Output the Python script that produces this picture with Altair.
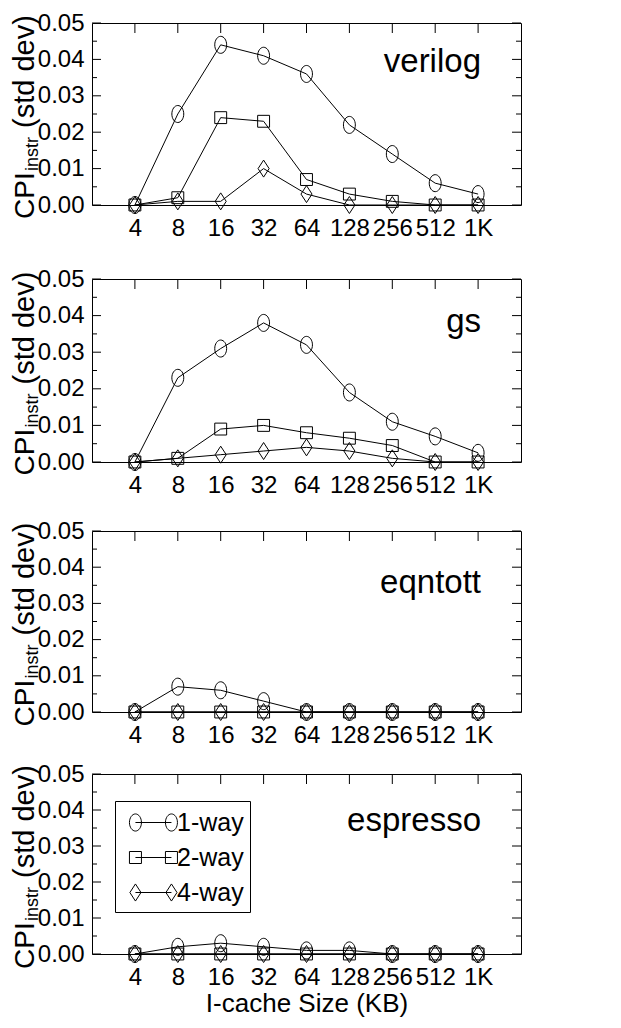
import altair as alt
import pandas as pd

sizes = ["4", "8", "16", "32", "64", "128", "256", "512", "1K"]
series = ["1-way", "2-way", "4-way"]
benchmarks = ["verilog", "gs", "eqntott", "espresso"]

verilog_1way = [0.0, 0.025, 0.044, 0.041, 0.036, 0.022, 0.014, 0.006, 0.003]
verilog_2way = [0.0, 0.002, 0.024, 0.023, 0.007, 0.003, 0.001, 0.0, 0.0]
verilog_4way = [0.0, 0.001, 0.001, 0.010, 0.003, 0.0, 0.0, 0.0, 0.0]

gs_1way = [0.0, 0.023, 0.031, 0.038, 0.032, 0.019, 0.011, 0.007, 0.0025]
gs_2way = [0.0, 0.001, 0.009, 0.010, 0.008, 0.0065, 0.0045, 0.0, 0.0]
gs_4way = [0.0, 0.001, 0.002, 0.003, 0.004, 0.003, 0.001, 0.0, 0.0]

eqntott_1way = [0.0, 0.007, 0.006, 0.003, 0.0, 0.0, 0.0, 0.0, 0.0]
eqntott_2way = [0.0, 0.0, 0.0, 0.0, 0.0, 0.0, 0.0, 0.0, 0.0]
eqntott_4way = [0.0, 0.0, 0.0, 0.0, 0.0, 0.0, 0.0, 0.0, 0.0]

espresso_1way = [0.0, 0.002, 0.003, 0.002, 0.001, 0.001, 0.0, 0.0, 0.0]
espresso_2way = [0.0, 0.0, 0.0, 0.0, 0.0, 0.0, 0.0, 0.0, 0.0]
espresso_4way = [0.0, 0.0, 0.0, 0.0, 0.0, 0.0, 0.0, 0.0, 0.0]

y_major = [0.0, 0.01, 0.02, 0.03, 0.04, 0.05]
y_minor = [0.005, 0.015, 0.025, 0.035, 0.045]

panel_values = {
    "verilog": [verilog_1way, verilog_2way, verilog_4way],
    "gs": [gs_1way, gs_2way, gs_4way],
    "eqntott": [eqntott_1way, eqntott_2way, eqntott_4way],
    "espresso": [espresso_1way, espresso_2way, espresso_4way],
}

FONT = "Liberation Sans"
W = 429
heights = [182, 183, 181, 180]
name_baseline = [49, 53, 62, 57]

# marker paths (unit box -> sqrt(size) px)
ELLIPSE = "M0,-1 A0.7,1 0 1,1 0,1 A0.7,1 0 1,1 0,-1 Z"
SQUARE = "M-0.7,-0.7 L0.7,-0.7 L0.7,0.7 L-0.7,0.7 Z"
DIAMOND = "M0,-1 L0.65,0 L0,1 L-0.65,0 Z"


def ell(cx, rx, ry):
    return (f"M{cx},{-ry} A{rx},{ry} 0 1,1 {cx},{ry} "
            f"A{rx},{ry} 0 1,1 {cx},{-ry} Z")


def sq(cx, h):
    return (f"M{cx-h},{-h} L{cx+h},{-h} L{cx+h},{h} L{cx-h},{h} Z")


def dia(cx, hw, hh):
    return f"M{cx},{-hh} L{cx+hw},0 L{cx},{hh} L{cx-hw},0 Z"


SH = 1.13  # shift legend glyph to the right inside the frame
L_, R_ = round(-1.2 + SH, 3), round(1.2 + SH, 3)
LINE = f"M{L_},0 L{R_},0 "
LEG_1 = LINE + ell(L_, 0.4, 0.57) + " " + ell(R_, 0.4, 0.57)
LEG_2 = LINE + sq(L_, 0.4) + " " + sq(R_, 0.4)
LEG_4 = LINE + dia(L_, 0.37, 0.57) + " " + dia(R_, 0.37, 0.57)

YAXIS = alt.Axis(values=y_major, format=".2f", domain=False, ticks=False,
                 tickSize=0, grid=False, labelFontSize=24, labelFont=FONT,
                 labelColor="black", labelPadding=8, labelOverlap=False,
                 labelFlush=False, title=None)
YSCALE = alt.Scale(domain=[0, 0.05], nice=False, zero=True)


def panel(i, name):
    H = heights[i]
    rows = []
    for s, vals in zip(series, panel_values[name]):
        for k, v in zip(sizes, vals):
            rows.append({"size": k, "series": s, "value": v})
    df = pd.DataFrame(rows)

    last = i == len(benchmarks) - 1
    xaxis = alt.Axis(
        title="I-cache Size (KB)" if last else None,
        domain=False, ticks=False, labelAngle=0, labelFontSize=24,
        labelPadding=11, labelFont=FONT, labelColor="black",
        labelOverlap=False,
        titleFont=FONT, titleFontSize=26, titleFontWeight="normal",
        titleColor="black", titlePadding=1,
    )
    xs = alt.X("size:N", sort=sizes, scale=alt.Scale(type="point", padding=1),
               axis=xaxis)
    ys = alt.Y("value:Q", scale=YSCALE, axis=YAXIS)
    yv = alt.Y("v:Q", scale=YSCALE, axis=YAXIS)

    base = alt.Chart(df)
    lines = base.mark_line(color="black", strokeWidth=1).encode(
        x=xs, y=ys, detail="series:N")
    points = base.mark_point(filled=False, color="black", strokeWidth=1,
                             size=289, opacity=1).encode(
        x=xs, y=ys,
        shape=alt.Shape("series:N",
                        scale=alt.Scale(domain=series,
                                        range=[ELLIPSE, SQUARE, DIAMOND]),
                        legend=None))

    tick_df = pd.DataFrame({"size": sizes})
    top_ticks = alt.Chart(tick_df).mark_rule(color="black", strokeWidth=1).encode(
        x=xs, y=alt.value(0), y2=alt.value(10))

    maj_df = pd.DataFrame({"v": y_major})
    min_df = pd.DataFrame({"v": y_minor})
    left_maj = alt.Chart(maj_df).mark_rule(color="black").encode(
        y=yv, x=alt.value(0), x2=alt.value(9))
    left_min = alt.Chart(min_df).mark_rule(color="black").encode(
        y=yv, x=alt.value(0), x2=alt.value(5))
    right_maj = alt.Chart(maj_df).mark_rule(color="black").encode(
        y=yv, x=alt.value(W - 9), x2=alt.value(W))
    right_min = alt.Chart(min_df).mark_rule(color="black").encode(
        y=yv, x=alt.value(W - 5), x2=alt.value(W))

    name_df = pd.DataFrame({"name": [name]})
    name_txt = alt.Chart(name_df).mark_text(
        align="right", baseline="alphabetic", fontSize=33, font=FONT,
        color="black").encode(
        x=alt.value(W - 40), y=alt.value(name_baseline[i]), text="name:N")

    t_df = pd.DataFrame({"a": ["CPI"], "b": ["instr"], "c": ["(std dev)"]})
    start = H / 2 + 105
    ty1 = alt.Chart(t_df).mark_text(angle=270, align="left", baseline="alphabetic",
                                    fontSize=28, font=FONT, color="black").encode(
        x=alt.value(-58), y=alt.value(start), text="a:N")
    ty2 = alt.Chart(t_df).mark_text(angle=270, align="left", baseline="alphabetic",
                                    fontSize=18, font=FONT, color="black").encode(
        x=alt.value(-54), y=alt.value(start - 48), text="b:N")
    ty3 = alt.Chart(t_df).mark_text(angle=270, align="left", baseline="alphabetic",
                                    fontSize=29, font=FONT, color="black").encode(
        x=alt.value(-58), y=alt.value(start - 48 - 43), text="c:N")

    layers = [lines, points, top_ticks, left_maj, left_min, right_maj,
              right_min, name_txt, ty1, ty2, ty3]

    if last:
        leg = base.mark_point(filled=False, color="black", opacity=0).encode(
            x=xs, y=ys,
            shape=alt.Shape(
                "series:N",
                scale=alt.Scale(domain=series, range=[LEG_1, LEG_2, LEG_4]),
                legend=alt.Legend(
                    title=None, orient="none", legendX=23, legendY=27,
                    symbolSize=900, symbolOpacity=1, symbolStrokeColor="black",
                    symbolFillColor="transparent", symbolStrokeWidth=1,
                    labelFontSize=25, labelFont=FONT, labelColor="black",
                    labelOffset=25, rowPadding=6, padding=6,
                    strokeColor="black", fillColor="white")))
        layers.append(leg)

    ch = alt.layer(*layers).properties(width=W, height=H)
    if last:
        ch = ch.resolve_scale(shape="independent")
    return ch


p = [panel(i, n) for i, n in enumerate(benchmarks)]
chart = alt.vconcat(alt.vconcat(alt.vconcat(p[0], p[1], spacing=25), p[2], spacing=20),
                    p[3], spacing=13).properties(
    padding={"left": 2, "top": 2, "right": 5, "bottom": 5}
).configure_view(stroke="black", strokeWidth=1).configure_concat(
    spacing=20).configure_axis(labelOverlap=False)

chart.save("out.html", embed_options={"renderer": "svg", "actions": False})
